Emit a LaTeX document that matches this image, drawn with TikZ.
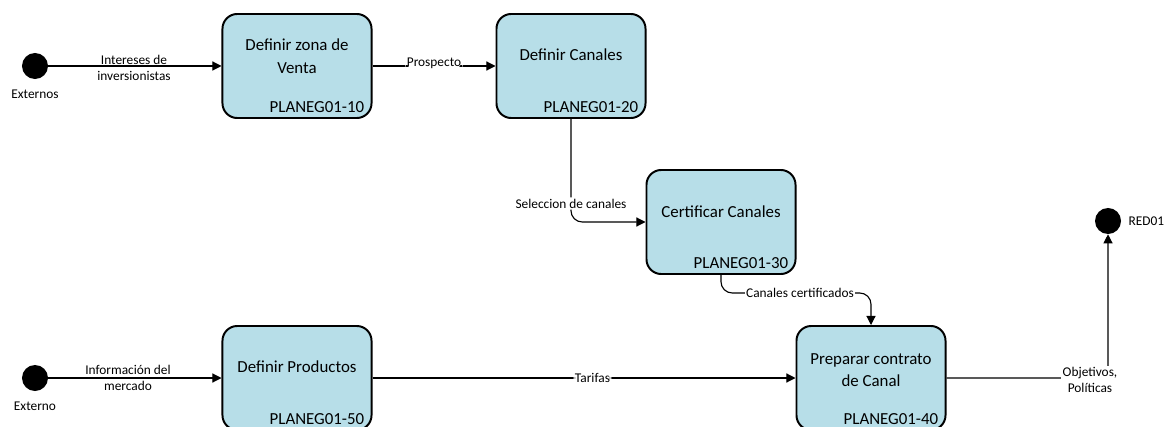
\documentclass[tikz,border=0pt]{standalone}
\usepackage{fontspec}
\setmainfont{Carlito}
\usepackage{xcolor}
\usepackage{tikz}
\usetikzlibrary{calc}
\usetikzlibrary{arrows.meta}
\usetikzlibrary{positioning}
\definecolor{procfill}{HTML}{B7DEE8}
\tikzset{>={Triangle[length=6.5pt,width=6.5pt]}}
\tikzstyle{proc} = [rectangle, rounded corners=10.5pt, draw=black, line width=1.4pt, fill=procfill, minimum width=3.725cm, minimum height=2.6cm]
\tikzstyle{ptitle} = [align=center, font=\fontsize{12}{16}\selectfont]
\tikzstyle{pcode} = [anchor=base east, inner sep=0pt, font=\fontsize{12}{14}\selectfont]
\tikzstyle{endpt} = [circle, fill=black, minimum size=0.65cm, inner sep=0pt]
\tikzstyle{lbl} = [align=center, font=\fontsize{9.5}{11.5}\selectfont, inner sep=1pt]
\tikzstyle{flow} = [->, line width=0.8pt, rounded corners=8pt]

\begin{document}
\begin{tikzpicture}[x=0.025cm, y=-0.025cm]
\useasboundingbox (0,0) rectangle (1165,427);
% procesos
\node [proc] (b1) at (297,66) {};
\node [proc] (b2) at (571,66) {};
\node [proc] (b3) at (721,222) {};
\node [proc] (b4) at (871,378) {};
\node [proc] (b5) at (297,378) {};
\node [ptitle] (t1) at (297,56) {Definir zona de\\Venta};
\node [ptitle] (t2) at (571,55) {Definir Canales};
\node [ptitle] (t3) at (721,212) {Certificar Canales};
\node [ptitle] (t4) at (871,370) {Preparar contrato\\de Canal};
\node [ptitle] (t5) at (297,367) {Definir Productos};
\node [pcode] (c1) at ($(b1.south east)+(-8,-6)$) {PLANEG01-10};
\node [pcode] (c2) at ($(b2.south east)+(-8,-6)$) {PLANEG01-20};
\node [pcode] (c3) at ($(b3.south east)+(-8,-6)$) {PLANEG01-30};
\node [pcode] (c4) at ($(b4.south east)+(-8,-7)$) {PLANEG01-40};
\node [pcode] (c5) at ($(b5.south east)+(-8,-7)$) {PLANEG01-50};
% extremos
\node [endpt] (ext1) at (35,66) {};
\node [endpt] (ext2) at (35,378) {};
\node [endpt] (red) at (1108,221) {};
\node [lbl, below=6.5pt of ext1] (ext1l) {Externos};
\node [lbl, below=6.5pt of ext2] (ext2l) {Externo};
\node [lbl, right=4pt of red] (redl) {RED01};
% flujos
\draw [flow] (ext1) to (b1);
\node [lbl] (l1) at (134,68) {Intereses de\\inversionistas};
\draw [flow] (b1) to node[lbl, fill=white, pos=0.5, yshift=2pt] (l2) {Prospecto} (b2);
\draw [flow] (b2) |- node[lbl, fill=white, pos=0.41] (l3) {Seleccion de canales} (b3);
\coordinate (cc) at (800,293);
\draw [flow] (b3.south) |- (cc) -| (b4.north);
\node [lbl, fill=white] (l4) at (cc) {Canales certificados};
\draw [flow] (ext2) to (b5);
\node [lbl] (l5) at (128,378) {Información del\\mercado};
\draw [flow] (b5) to node[lbl, fill=white, pos=0.52] (l6) {Tarifas} (b4);
\draw [flow] (b4.east) -| (red);
\node [lbl, fill=white] (l7) at (1090,380) {Objetivos,\\Políticas};
\end{tikzpicture}
\end{document}
